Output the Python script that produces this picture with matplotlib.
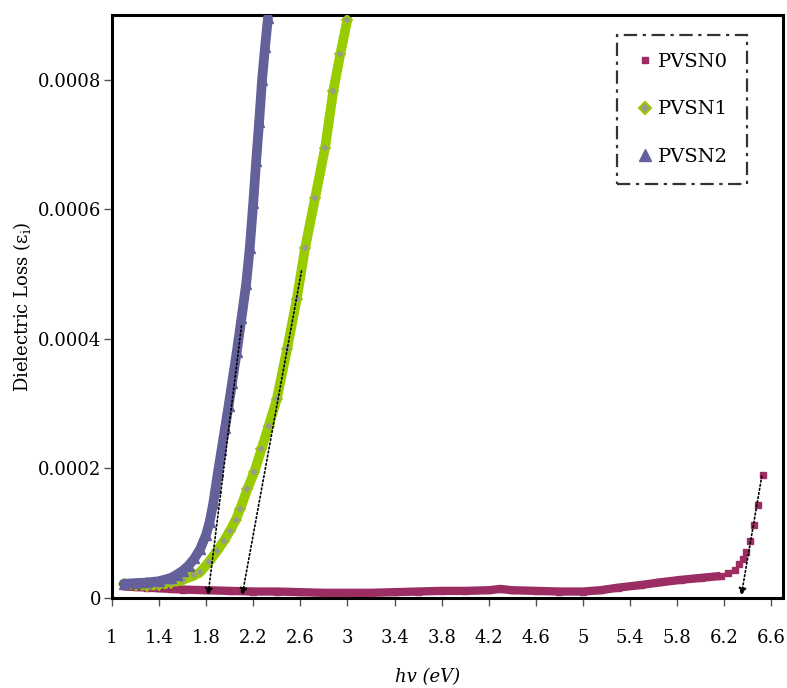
import numpy as np
import matplotlib
matplotlib.use("Agg")
import matplotlib.pyplot as plt

# photon energy (eV) and dielectric loss (x1e-4)
x0 = [1.10, 1.2, 1.3, 1.4, 1.5, 1.6, 1.8, 2.0, 2.2, 2.4, 2.6, 2.8, 3.0, 3.2, 3.4,
      3.6, 3.8, 4.0, 4.2, 4.3, 4.4, 4.6, 4.8, 5.0, 5.15, 5.3, 5.49, 5.65, 5.83,
      6.0, 6.17, 6.23, 6.29, 6.33, 6.36, 6.39, 6.42, 6.455, 6.49, 6.53]
y0 = [0.18, 0.17, 0.16, 0.15, 0.14, 0.13, 0.12, 0.11, 0.10, 0.10, 0.09, 0.08,
      0.08, 0.08, 0.09, 0.10, 0.11, 0.11, 0.12, 0.14, 0.12, 0.11, 0.10, 0.10,
      0.12, 0.16, 0.20, 0.24, 0.28, 0.31, 0.34, 0.38, 0.43, 0.53, 0.60, 0.71,
      0.88, 1.12, 1.43, 1.90]

x1 = [1.10, 1.2, 1.3, 1.4, 1.5, 1.6, 1.7, 1.75, 1.82, 1.89, 1.95, 2.0, 2.05,
      2.09, 2.15, 2.21, 2.27, 2.33, 2.40, 2.487, 2.57, 2.64, 2.725, 2.81,
      2.88, 2.94, 3.0]
y1 = [0.22, 0.20, 0.19, 0.20, 0.23, 0.28, 0.35, 0.40, 0.55, 0.72, 0.88, 1.03,
      1.20, 1.38, 1.68, 1.95, 2.30, 2.65, 3.07, 3.84, 4.62, 5.40, 6.17, 6.95,
      7.83, 8.40, 8.93]

x2 = [1.10, 1.2, 1.3, 1.4, 1.5, 1.55, 1.6, 1.65, 1.7, 1.75, 1.8, 1.83, 1.86,
      1.88, 1.9, 1.93, 1.96, 1.99, 2.02, 2.06, 2.1, 2.14, 2.17, 2.2, 2.225,
      2.25, 2.275, 2.3, 2.325]
y2 = [0.22, 0.23, 0.24, 0.26, 0.31, 0.36, 0.42, 0.50, 0.61, 0.76, 0.98, 1.18,
      1.46, 1.70, 1.94, 2.28, 2.62, 2.96, 3.32, 3.80, 4.32, 4.85, 5.40, 6.10,
      6.75, 7.35, 8.00, 8.50, 8.96]

# tangent lines (start x, start y, end x) -> extrapolated band edge
tangents = [(2.10, 4.2, 1.815), (2.61, 5.05, 2.105), (6.52, 1.88, 6.345)]

names = ["PVSN0", "PVSN1", "PVSN2"]
c0, c1, c2 = "#9b2d62", "#99cc00", "#63609a"

xticks = [1, 1.4, 1.8, 2.2, 2.6, 3, 3.4, 3.8, 4.2, 4.6, 5, 5.4, 5.8, 6.2, 6.6]
xlabels = ["1", "1.4", "1.8", "2.2", "2.6", "3", "3.4", "3.8", "4.2", "4.6",
           "5", "5.4", "5.8", "6.2", "6.6"]
yticks = [0, 0.0002, 0.0004, 0.0006, 0.0008]
ylabels = ["0", "0.0002", "0.0004", "0.0006", "0.0008"]

plt.rcParams["font.family"] = ["DejaVu Serif"]

fig = plt.figure(figsize=(7.87, 6.88), dpi=100)
ax = fig.add_axes([0.1423, 0.1308, 0.8526, 0.8474])

s = 1e-4
x0a, y0a = np.array(x0), np.array(y0) * s
x1a, y1a = np.array(x1), np.array(y1) * s
x2a, y2a = np.array(x2), np.array(y2) * s

# dense bands of markers drawn as thick lines + markers
k = 31  # where pvsn0 markers start to separate
ax.plot(x0a[:k], y0a[:k], color=c0, lw=6, solid_capstyle="butt", zorder=2)
ax.plot(x0a, y0a, ls="none", marker="s", ms=5, color=c0, mec=c0, zorder=3)
ax.plot(x1a, y1a, color=c1, lw=7, solid_capstyle="round", zorder=2)
ax.plot(x1a, y1a, ls="none", marker="D", ms=5, color="#9a9a8a", mec=c1, mew=1.3, zorder=3)
ax.plot(x2a, y2a, color=c2, lw=7, solid_capstyle="round", zorder=4)
ax.plot(x2a, y2a, ls="none", marker="^", ms=7, color=c2, mec=c2, zorder=5)

for xs, ys, xe in tangents:
    ax.annotate("", xy=(xe, 0.0000035), xytext=(xs, ys * s),
                arrowprops=dict(arrowstyle="-|>", color="black", lw=1.2,
                                ls=(0, (1, 1.5)), mutation_scale=11,
                                shrinkA=0, shrinkB=0),
                zorder=6)

# legend proxies
h0, = ax.plot([], [], ls="none", marker="s", ms=5, color=c0, mec=c0)
h1, = ax.plot([], [], ls="none", marker="D", ms=6, color="#9a9a8a", mec=c1, mew=1.5)
h2, = ax.plot([], [], ls="none", marker="^", ms=8, color=c2, mec=c2)
leg = ax.legend([h0, h1, h2], names, loc="upper right",
                bbox_to_anchor=(0.946, 0.966), fontsize=14, frameon=True,
                fancybox=False, labelspacing=1.5, handletextpad=0.25,
                borderpad=0.95, handlelength=0.9, borderaxespad=0)
fr = leg.get_frame()
fr.set_edgecolor("black")
fr.set_linewidth(1.6)
fr.set_linestyle((0, (6, 2.5, 1.5, 2.5)))

ax.set_xlim(1, 6.7)
ax.set_ylim(0, 0.0009)
ax.set_xticks(xticks)
ax.set_xticklabels(xlabels, fontsize=13)
ax.set_yticks(yticks)
ax.set_yticklabels(ylabels, fontsize=13)
ax.tick_params(axis="x", direction="out", length=6, width=1, color="#555555", pad=16)
ax.tick_params(axis="y", direction="out", length=6, width=1, color="#555555", pad=2)
for sp in ax.spines.values():
    sp.set_linewidth(2.2)
    sp.set_color("black")

ax.set_xlabel("hv (eV)", fontsize=13, style="italic")
ax.xaxis.set_label_coords(0.47, -0.12)
ax.set_ylabel("Dielectric Loss (ε$_\\mathregular{i}$)", fontsize=13)
ax.yaxis.set_label_coords(-0.118, 0.5)

fig.savefig("out.png", dpi=100)
